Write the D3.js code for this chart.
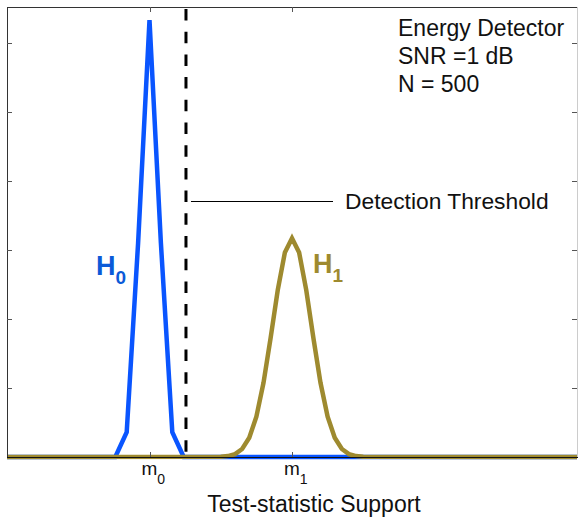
<!DOCTYPE html>
<html><head><meta charset="utf-8">
<script src="https://cdn.jsdelivr.net/npm/d3@7"></script>
<style>
body{margin:0;background:#fff}
svg{display:block;font-family:"Liberation Sans",Arial,Helvetica,sans-serif}
</style>
</head><body>
<script>
const h0X = [0, 19, 21, 23, 25, 27, 29, 31, 100];
const h0Y = [0, 0, 0.36, 3.1, 6.33, 3.1, 0.36, 0, 0];
// H1: signal + noise
const h1X = [0, 37.5, 38.75, 40, 41.25, 42.5, 43.75, 45, 46.25, 47.5, 48.75, 50,
  51.25, 52.5, 53.75, 55, 56.25, 57.5, 58.75, 60, 61.25, 62.5, 100];
const h1Y = [0, 0.004, 0.013, 0.042, 0.116, 0.278, 0.585, 1.075, 1.725, 2.419, 2.963, 3.17,
  2.963, 2.419, 1.725, 1.075, 0.585, 0.278, 0.116, 0.042, 0.013, 0.004, 0];
const xTickVals = [25, 50];
const xTickSubs = ["0", "1"];
const yTickVals = [1, 2, 3, 4, 5, 6];
const threshold = 31.4;
const thresholdNoteY = 3.71;
const infoLines = ["Energy Detector", "SNR =1 dB", "N = 500"];

const w = 578, h = 518;
const mLeft = 7, mRight = 577, mTop = 7, mBottom = 457;
const blue = "#0a55ff", gold = "#9e8a2f";

const svg = d3.select("body").append("svg")
  .attr("width", w)
  .attr("height", h);

const x = d3.scaleLinear().domain([0, 100]).range([mLeft, mRight]);
const y = d3.scaleLinear().domain([0, 6.52]).range([mBottom, mTop]);

svg.append("clipPath").attr("id", "clip")
  .append("rect").attr("x", mLeft).attr("y", 0).attr("width", w - mLeft).attr("height", mBottom + 10);

const line = d3.line().x(d => x(d[0])).y(d => y(d[1]));
const plot = svg.append("g").attr("clip-path", "url(#clip)");

plot.append("path")
  .datum(h0X.map((v, i) => [v, h0Y[i]]))
  .attr("d", line)
  .attr("fill", "none")
  .attr("stroke", blue)
  .attr("stroke-width", 4.5);

plot.append("path")
  .datum(h1X.map((v, i) => [v, h1Y[i]]))
  .attr("d", line)
  .attr("fill", "none")
  .attr("stroke", gold)
  .attr("stroke-width", 4.5);

// threshold
svg.append("line")
  .attr("x1", x(threshold)).attr("x2", x(threshold))
  .attr("y1", mTop + 2).attr("y2", mBottom)
  .attr("stroke", "#000")
  .attr("stroke-width", 3)
  .attr("stroke-dasharray", "11.5,11.2");

// frame
const frame = svg.append("g").attr("fill", "none").attr("stroke-width", 1);
frame.append("line").attr("x1", mLeft).attr("x2", w).attr("y1", mTop + 0.5).attr("y2", mTop + 0.5).attr("stroke", "#333");
frame.append("line").attr("x1", mLeft + 0.5).attr("x2", mLeft + 0.5).attr("y1", mTop).attr("y2", mBottom).attr("stroke", "#333");
frame.append("line").attr("x1", mRight + 0.5).attr("x2", mRight + 0.5).attr("y1", mTop).attr("y2", mBottom).attr("stroke", "#ccc");
frame.append("line").attr("x1", mLeft).attr("x2", w).attr("y1", mBottom + 0.5).attr("y2", mBottom + 0.5).attr("stroke", "#111");

// y ticks both sides, no labels
frame.selectAll(".yl").data(yTickVals).join("line")
  .attr("x1", mLeft).attr("x2", mLeft + 5)
  .attr("y1", d => Math.round(y(d)) + 0.5).attr("y2", d => Math.round(y(d)) + 0.5)
  .attr("stroke", "#555");
frame.selectAll(".yr").data(yTickVals).join("line")
  .attr("x1", mRight - 5).attr("x2", mRight)
  .attr("y1", d => Math.round(y(d)) + 0.5).attr("y2", d => Math.round(y(d)) + 0.5)
  .attr("stroke", "#555");
// x ticks top and bottom
xTickVals.forEach(v => {
  const px = Math.round(x(v)) + 0.5;
  frame.append("line").attr("x1", px).attr("x2", px).attr("y1", mBottom - 5).attr("y2", mBottom).attr("stroke", "#555");
  frame.append("line").attr("x1", px).attr("x2", px).attr("y1", mTop).attr("y2", mTop + 5).attr("stroke", "#555");
});

// x tick labels m0, m1
const xt = svg.append("g").selectAll("text").data(xTickVals).join("text")
  .attr("x", d => x(d) - 8)
  .attr("y", 475)
  .attr("font-size", 19)
  .attr("fill", "#111");
xt.append("tspan").text("m");
xt.append("tspan").attr("dy", 9).attr("font-size", 14).text((d, i) => xTickSubs[i]);

svg.append("text")
  .attr("x", 314).attr("y", 512)
  .attr("text-anchor", "middle")
  .attr("font-size", 23)
  .attr("fill", "#111")
  .text("Test-statistic Support");

// threshold note
svg.append("line")
  .attr("x1", x(threshold) + 5).attr("x2", 333)
  .attr("y1", Math.round(y(thresholdNoteY)) + 0.5).attr("y2", Math.round(y(thresholdNoteY)) + 0.5)
  .attr("stroke", "#000");
svg.append("text")
  .attr("x", 345).attr("y", y(thresholdNoteY) + 8)
  .attr("font-size", 22.8)
  .attr("fill", "#111")
  .text("Detection Threshold");

svg.append("g").selectAll("text").data(infoLines).join("text")
  .attr("x", 398)
  .attr("y", (d, i) => 36 + i * 28)
  .attr("font-size", 23)
  .attr("fill", "#111")
  .text(d => d);

// hypothesis labels
function hLabel(px, py, sub, color) {
  const t = svg.append("text")
    .attr("x", px).attr("y", py)
    .attr("font-size", 27)
    .attr("font-weight", "bold")
    .attr("fill", color);
  t.append("tspan").text("H");
  t.append("tspan").attr("dy", 9).attr("font-size", 19).text(sub);
}
hLabel(96, 275, "0", "#0b5ad8");
hLabel(313, 273, "1", gold);
</script>
</body></html>
